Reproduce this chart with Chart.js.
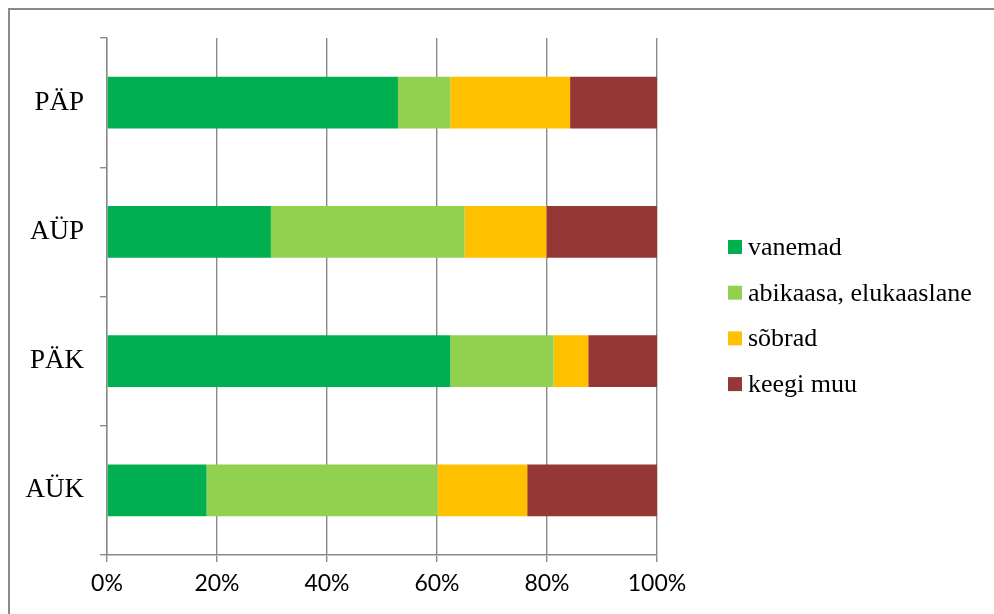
<!DOCTYPE html>
<html>
<head>
<meta charset="utf-8">
<script src="https://cdn.jsdelivr.net/npm/chart.js@4"></script>
<style>
html,body{margin:0;padding:0;background:#fff;}
canvas{display:block;}
</style>
</head>
<body>
<canvas id="c" width="994" height="614"></canvas>
<script>
const categories = ['PÄP', 'AÜP', 'PÄK', 'AÜK'];
const seriesNames = ['vanemad', 'abikaasa, elukaaslane', 'sõbrad', 'keegi muu'];
const vanemad = [52.9, 29.8, 62.4, 18.1];
const abikaasa = [9.5, 35.2, 18.8, 42.0];
const sobrad = [21.8, 14.9, 6.3, 16.3];
const keegiMuu = [15.8, 20.1, 12.5, 23.6];
const xTicks = [0, 20, 40, 60, 80, 100];
const colors = ['#00B050', '#92D050', '#FFC000', '#953735'];

const seriesValues = [vanemad, abikaasa, sobrad, keegiMuu];
const GRID = '#8a8a8a';

const frame = {
  id: 'frame',
  beforeDraw(chart) {
    const ctx = chart.ctx;
    ctx.save();
    ctx.fillStyle = '#fff';
    ctx.fillRect(0, 0, chart.width, chart.height);
    ctx.strokeStyle = GRID;
    ctx.lineWidth = 2;
    ctx.strokeRect(9, 9, 1100, 800);
    ctx.restore();
  }
};

const sideLegend = {
  id: 'sideLegend',
  afterDraw(chart) {
    const ctx = chart.ctx;
    ctx.save();
    ctx.font = '26px "Liberation Serif", "Times New Roman", serif';
    ctx.textBaseline = 'middle';
    ctx.textAlign = 'left';
    chart.data.datasets.forEach((ds, i) => {
      const cy = 247 + i * 45.7;
      ctx.fillStyle = ds.backgroundColor;
      ctx.fillRect(728, cy - 7, 14, 14);
      ctx.fillStyle = '#000';
      ctx.fillText(ds.label, 748, cy + 1);
    });
    ctx.restore();
  }
};

new Chart(document.getElementById('c'), {
  type: 'bar',
  data: {
    labels: categories,
    datasets: seriesNames.map((n, i) => ({
      label: n,
      data: seriesValues[i],
      backgroundColor: colors[i],
      borderWidth: 0,
      categoryPercentage: 1,
      barPercentage: 0.4
    }))
  },
  options: {
    indexAxis: 'y',
    responsive: false,
    animation: false,
    devicePixelRatio: 1,
    layout: { padding: { left: 0, top: 38, right: 337, bottom: 0 } },
    plugins: { legend: { display: false }, tooltip: { enabled: false } },
    scales: {
      x: {
        stacked: true,
        min: 0, max: 100,
        afterFit(s) { s.height = 59; },
        afterBuildTicks(s) { s.ticks = xTicks.map(v => ({ value: v })); },
        ticks: {
          callback: v => v + '%',
          color: '#000',
          padding: 8,
          font: { family: 'Lato, "Open Sans", sans-serif', size: 23 }
        },
        grid: { color: GRID, lineWidth: 1.4, tickLength: 7, drawTicks: true },
        border: { color: GRID, width: 1.4 }
      },
      y: {
        stacked: true,
        afterFit(s) { s.width = 107; },
        ticks: {
          color: '#000',
          padding: 16,
          font: { family: '"Liberation Serif", "Times New Roman", serif', size: 27 }
        },
        grid: { color: GRID, lineWidth: 1.4, drawOnChartArea: false, offset: true, tickLength: 7 },
        border: { color: GRID, width: 1.4 }
      }
    }
  },
  plugins: [frame, sideLegend]
});
</script>
</body>
</html>
